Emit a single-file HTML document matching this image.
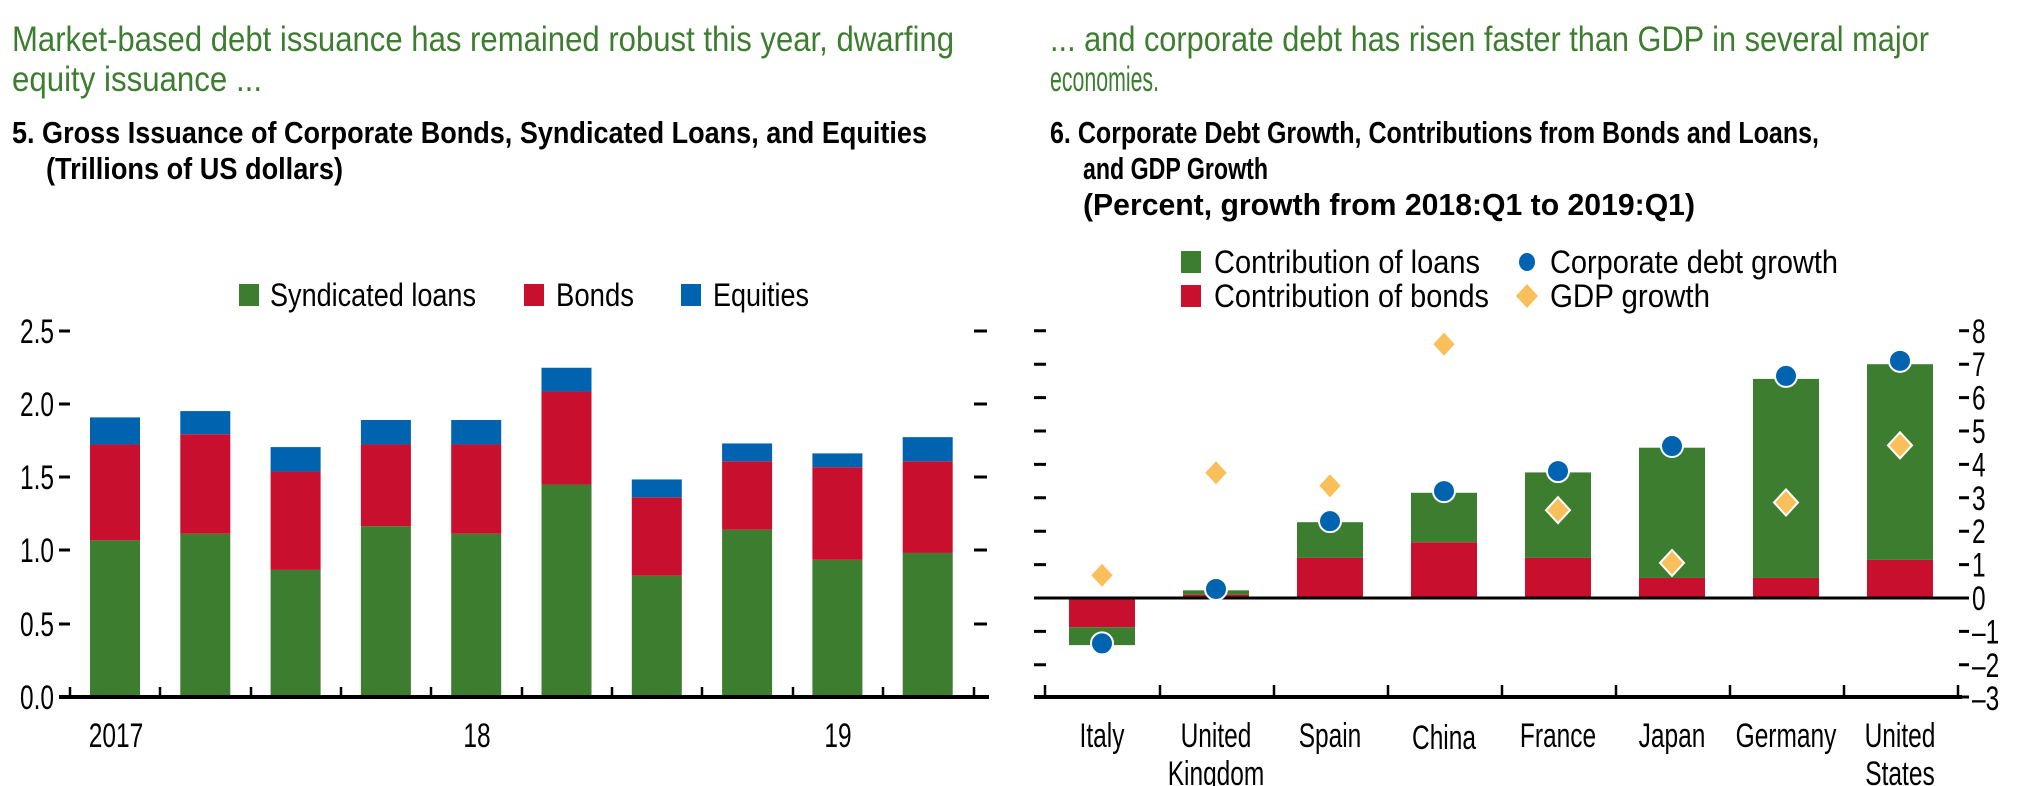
<!DOCTYPE html>
<html><head><meta charset="utf-8"><style>
html,body{margin:0;padding:0;background:#fff;width:2041px;height:786px;overflow:hidden}
svg{display:block}
text{font-family:"Liberation Sans Narrow","Liberation Sans",sans-serif}
</style></head><body>
<svg width="2041" height="786" viewBox="0 0 2041 786" xmlns="http://www.w3.org/2000/svg">
<g fill="#3d7d2f" font-size="35">
<text x="12" y="51" textLength="942" lengthAdjust="spacingAndGlyphs">Market-based debt issuance has remained robust this year, dwarfing</text>
<text x="12" y="91" textLength="250" lengthAdjust="spacingAndGlyphs">equity issuance ...</text>
<text x="1050" y="51" textLength="879" lengthAdjust="spacingAndGlyphs">... and corporate debt has risen faster than GDP in several major</text>
<text x="1050" y="91" textLength="109" lengthAdjust="spacingAndGlyphs">economies.</text>
</g>
<g fill="#000" font-size="31" font-weight="bold">
<text x="12" y="143" textLength="915" lengthAdjust="spacingAndGlyphs">5. Gross Issuance of Corporate Bonds, Syndicated Loans, and Equities</text>
<text x="46" y="179" textLength="297" lengthAdjust="spacingAndGlyphs">(Trillions of US dollars)</text>
<text x="1050" y="143" textLength="769" lengthAdjust="spacingAndGlyphs">6. Corporate Debt Growth, Contributions from Bonds and Loans,</text>
<text x="1083" y="179" textLength="185" lengthAdjust="spacingAndGlyphs">and GDP Growth</text>
<text x="1083" y="215" textLength="612" lengthAdjust="spacingAndGlyphs">(Percent, growth from 2018:Q1 to 2019:Q1)</text>
</g>

<g font-size="32" fill="#000">
<rect x="239" y="284" width="20" height="22" fill="#3d7d2f"/>
<text x="270" y="306" textLength="206" lengthAdjust="spacingAndGlyphs">Syndicated loans</text>
<rect x="524" y="284" width="20" height="22" fill="#c8102e"/>
<text x="556" y="306" textLength="78" lengthAdjust="spacingAndGlyphs">Bonds</text>
<rect x="681" y="284" width="20" height="22" fill="#0063b0"/>
<text x="713" y="306" textLength="96" lengthAdjust="spacingAndGlyphs">Equities</text>
</g>

<g font-size="34" fill="#000" text-anchor="end" class="cond">
<text x="54" y="343">2.5</text>
<text x="54" y="416">2.0</text>
<text x="54" y="489">1.5</text>
<text x="54" y="562">1.0</text>
<text x="54" y="636">0.5</text>
<text x="54" y="709">0.0</text>
</g>
<g stroke="#000" stroke-width="3">
<path d="M59 331h11M59 404h11M59 477h11M59 550h11M59 624h11M974 331h13M974 404h13M974 477h13M974 550h13M974 624h13"/>
</g>
<g id="bars"></g>
<g stroke="#000" stroke-width="4"><path d="M59 697H989"/></g>
<g stroke="#000" stroke-width="2.5">
<path d="M70 697v-10M160 697v-10M251 697v-10M341 697v-10M431 697v-10M522 697v-10M612 697v-10M702 697v-10M793 697v-10M883 697v-10M974 697v-10"/>
</g>
<g font-size="34" fill="#000" text-anchor="middle" class="cond">
<text x="116" y="747">2017</text>
<text x="477" y="747">18</text>
<text x="838" y="747">19</text>
</g>

<g font-size="32" fill="#000">
<rect x="1181" y="251" width="20" height="22" fill="#3d7d2f"/>
<text x="1214" y="273" textLength="266" lengthAdjust="spacingAndGlyphs">Contribution of loans</text>
<rect x="1181" y="285" width="20" height="22" fill="#c8102e"/>
<text x="1214" y="307" textLength="275" lengthAdjust="spacingAndGlyphs">Contribution of bonds</text>
<ellipse cx="1527" cy="262" rx="8" ry="9" fill="#0063b0"/>
<text x="1550" y="273" textLength="288" lengthAdjust="spacingAndGlyphs">Corporate debt growth</text>
<path d="M1527 284l11 12-11 12-11-12z" fill="#f9bf5a"/>
<text x="1550" y="307" textLength="160" lengthAdjust="spacingAndGlyphs">GDP growth</text>
</g>

<g id="rbars"></g>
<g stroke="#000" stroke-width="3" id="rticks"></g>
<g font-size="34" fill="#000" id="rlabels" class="cond"></g>
<g id="rmarks"></g>
<g font-size="34" fill="#000" text-anchor="middle" class="cond">
<text x="1102" y="747">Italy</text>
<text x="1216" y="747">United</text><text x="1216" y="785">Kingdom</text>
<text x="1330" y="747">Spain</text>
<text x="1444" y="749">China</text>
<text x="1558" y="747">France</text>
<text x="1672" y="747">Japan</text>
<text x="1786" y="747">Germany</text>
<text x="1900" y="747">United</text><text x="1900" y="785">States</text>
</g>
</svg>
<script>
var NS="http://www.w3.org/2000/svg";
function el(p,t,a){var e=document.createElementNS(NS,t);for(var k in a)e.setAttribute(k,a[k]);p.appendChild(e);return e;}
var L=[[1.07,1.725,1.91],[1.115,1.795,1.953],[0.868,1.54,1.707],[1.167,1.725,1.892],[1.115,1.725,1.892],[1.451,2.087,2.249],[0.829,1.364,1.486],[1.143,1.61,1.732],[0.937,1.57,1.664],[0.984,1.61,1.775]];
var g=document.getElementById("bars");
function ly(v){return 697-v*146.4;}
L.forEach(function(d,i){var x=90+i*90.3;
el(g,"rect",{x:x,y:ly(d[0]),width:50,height:697-ly(d[0]),fill:"#3d7d2f"});
el(g,"rect",{x:x,y:ly(d[1]),width:50,height:ly(d[0])-ly(d[1]),fill:"#c8102e"});
el(g,"rect",{x:x,y:ly(d[2]),width:50,height:ly(d[1])-ly(d[2]),fill:"#0063b0"});});
function ry(v){return 598-v*33.4;}
var R=[[-0.875,-1.41,-1.36,0.68],[0.1,0.23,0.27,3.75],[1.2,2.27,2.3,3.36],[1.67,3.15,3.2,7.6],[1.2,3.76,3.8,2.63],[0.6,4.5,4.55,1.05],[0.6,6.56,6.65,2.86],[1.14,7.0,7.1,4.57]];
var rb=document.getElementById("rbars"),rm=document.getElementById("rmarks");
R.forEach(function(d,i){var c=1102+i*114,x=c-33;
var b0=ry(0),b1=ry(d[0]),b2=ry(d[1]);
el(rb,"rect",{x:x,y:Math.min(b0,b1),width:66,height:Math.abs(b1-b0),fill:"#c8102e"});
el(rb,"rect",{x:x,y:Math.min(b1,b2),width:66,height:Math.abs(b2-b1),fill:"#3d7d2f"});
var gy=ry(d[3]);
el(rm,"path",{d:"M"+c+" "+(gy-13)+"l12 13-12 13-12-13z",fill:"#f9bf5a",stroke:"#fff","stroke-width":2});
el(rm,"ellipse",{cx:c,cy:ry(d[2]),rx:11,ry:11,fill:"#0063b0",stroke:"#fff","stroke-width":2});});
el(rb,"path",{d:"M1034 598H1962",stroke:"#000","stroke-width":3});
var rt=document.getElementById("rticks"),rl=document.getElementById("rlabels");
for(var v=8;v>=-3;v--){var y=ry(v);
if(v>-3){el(rt,"path",{d:"M1034 "+y+"h12M1959 "+y+"h10"});}
var t=el(rl,"text",{x:1972,y:y+12});t.textContent=(v<0?"\u2013"+(-v):""+v);}
el(rt,"path",{d:"M1034 697H1962",stroke:"#000","stroke-width":4});
[1045,1160,1274,1388,1502,1616,1730,1844,1958].forEach(function(x){el(rt,"path",{d:"M"+x+" 697v-12","stroke-width":2.5});});
el(rt,"path",{d:"M1962 697h7"});
document.querySelectorAll(".cond text").forEach(function(t){
 var w=t.getComputedTextLength();
 t.setAttribute("textLength",(w*0.72).toFixed(1));
 t.setAttribute("lengthAdjust","spacingAndGlyphs");
});
</script>
</body></html>
